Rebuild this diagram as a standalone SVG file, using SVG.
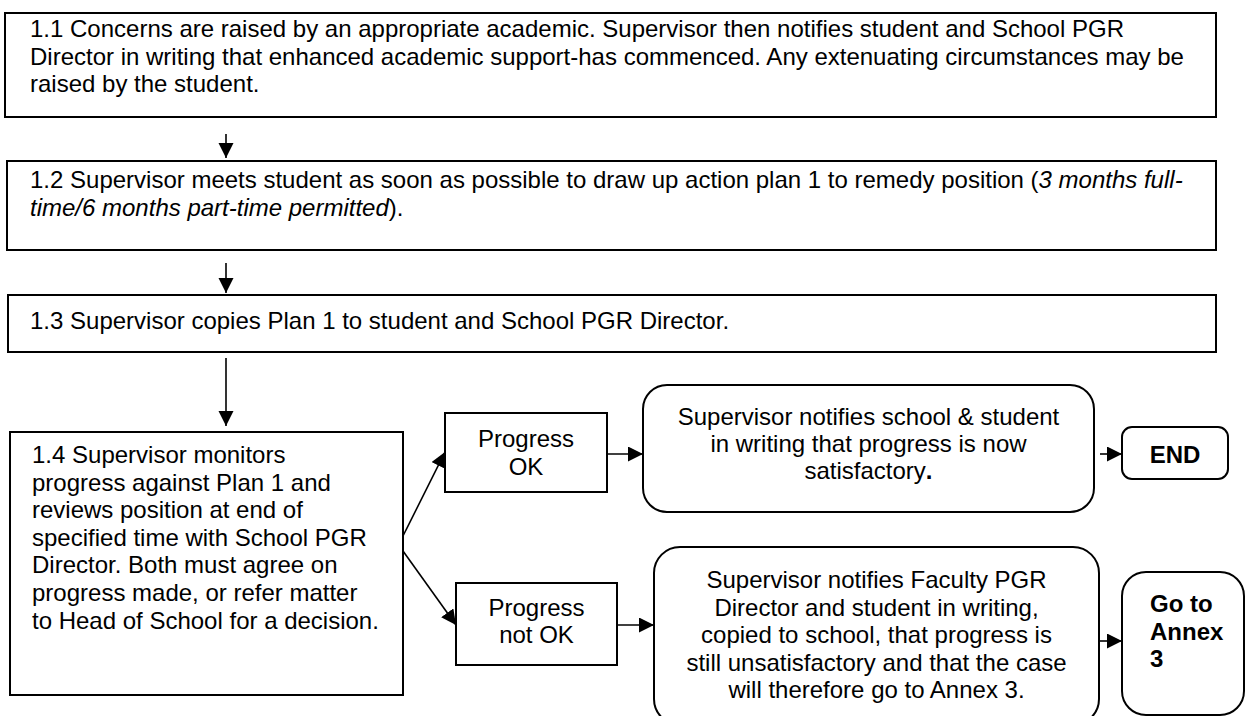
<svg xmlns="http://www.w3.org/2000/svg" width="1246" height="716" viewBox="0 0 1246 716">
  <defs>
    <style>
      .box { fill: #ffffff; stroke: #000000; stroke-width: 2; }
      .ln { fill: none; stroke: #000000; stroke-width: 1.6; }
      text { font-family: "Liberation Sans", Arial, sans-serif; font-size: 24px; fill: #000000; }
      .c { text-anchor: middle; }
      .b { font-weight: bold; }
      .i { font-style: italic; }
    </style>
    <marker id="ah" markerUnits="userSpaceOnUse" markerWidth="16" markerHeight="16" refX="15" refY="7.5" orient="auto">
      <path d="M0,0 L15,7.5 L0,15 z" fill="#000000"/>
    </marker>
  </defs>
  <rect width="1246" height="716" fill="#ffffff"/>

  <g id="connectors">
    <line class="ln" x1="226" y1="134" x2="226" y2="158" marker-end="url(#ah)"/>
    <line class="ln" x1="226" y1="263" x2="226" y2="293" marker-end="url(#ah)"/>
    <line class="ln" x1="226" y1="358" x2="226" y2="426" marker-end="url(#ah)"/>
    <line class="ln" x1="402" y1="538" x2="445" y2="452" marker-end="url(#ah)"/>
    <line class="ln" x1="403" y1="551" x2="456" y2="625" marker-end="url(#ah)"/>
    <line class="ln" x1="607" y1="454" x2="643" y2="454" marker-end="url(#ah)"/>
    <line class="ln" x1="617" y1="625" x2="654" y2="625" marker-end="url(#ah)"/>
    <line class="ln" x1="1100" y1="454" x2="1122" y2="454" marker-end="url(#ah)"/>
    <line class="ln" x1="1100" y1="641" x2="1122" y2="641" marker-end="url(#ah)"/>
  </g>

  <g id="step-1-1">
    <rect class="box" x="5" y="13" width="1211" height="104"/>
    <text x="30" y="37">1.1 Concerns are raised by an appropriate academic. Supervisor then notifies student and School PGR</text>
    <text x="30" y="64.6">Director in writing that enhanced academic support-has commenced. Any extenuating circumstances may be</text>
    <text x="30" y="92.2">raised by the student.</text>
  </g>

  <g id="step-1-2">
    <rect class="box" x="7" y="161" width="1209" height="89"/>
    <text x="30" y="188">1.2 Supervisor meets student as soon as possible to draw up action plan 1 to remedy position (<tspan class="i">3 months full-</tspan></text>
    <text x="30" y="215.6"><tspan class="i">time/6 months part-time permitted</tspan>).</text>
  </g>

  <g id="step-1-3">
    <rect class="box" x="8" y="295" width="1208" height="57"/>
    <text x="30" y="329">1.3 Supervisor copies Plan 1 to student and School PGR Director.</text>
  </g>

  <g id="step-1-4">
    <rect class="box" x="10" y="432" width="393" height="263"/>
    <text x="32" y="463">1.4 Supervisor monitors</text>
    <text x="32" y="490.6">progress against Plan 1 and</text>
    <text x="32" y="518.2">reviews position at end of</text>
    <text x="32" y="545.8">specified time with School PGR</text>
    <text x="32" y="573.4">Director. Both must agree on</text>
    <text x="32" y="601">progress made, or refer matter</text>
    <text x="32" y="628.6">to Head of School for a decision.</text>
  </g>

  <g id="progress-ok">
    <rect class="box" x="445" y="413" width="162" height="79"/>
    <text class="c" x="526" y="447">Progress</text>
    <text class="c" x="526" y="475">OK</text>
  </g>

  <g id="progress-not-ok">
    <rect class="box" x="456" y="583" width="161" height="82"/>
    <text class="c" x="536.5" y="616">Progress</text>
    <text class="c" x="536.5" y="643">not OK</text>
  </g>

  <g id="notify-satisfactory">
    <rect class="box" x="643" y="385" width="451" height="127" rx="24" ry="24"/>
    <text class="c" x="868.5" y="425">Supervisor notifies school &amp; student</text>
    <text class="c" x="868.5" y="452">in writing that progress is now</text>
    <text class="c" x="868.5" y="479">satisfactory<tspan class="b">.</tspan></text>
  </g>

  <g id="notify-unsatisfactory">
    <rect class="box" x="654" y="547" width="445" height="178" rx="26" ry="26"/>
    <text class="c" x="876.5" y="588">Supervisor notifies Faculty PGR</text>
    <text class="c" x="876.5" y="615.6">Director and student in writing,</text>
    <text class="c" x="876.5" y="643.2">copied to school, that progress is</text>
    <text class="c" x="876.5" y="670.8">still unsatisfactory and that the case</text>
    <text class="c" x="876.5" y="698.4">will therefore go to Annex 3.</text>
  </g>

  <g id="end">
    <rect class="box" x="1122" y="427" width="106" height="52" rx="10" ry="10"/>
    <text class="c b" x="1175" y="463">END</text>
  </g>

  <g id="go-to-annex-3">
    <rect class="box" x="1122" y="572" width="122" height="143" rx="24" ry="24"/>
    <text class="b" x="1150" y="612">Go to</text>
    <text class="b" x="1150" y="640">Annex</text>
    <text class="b" x="1150" y="667">3</text>
  </g>
</svg>
